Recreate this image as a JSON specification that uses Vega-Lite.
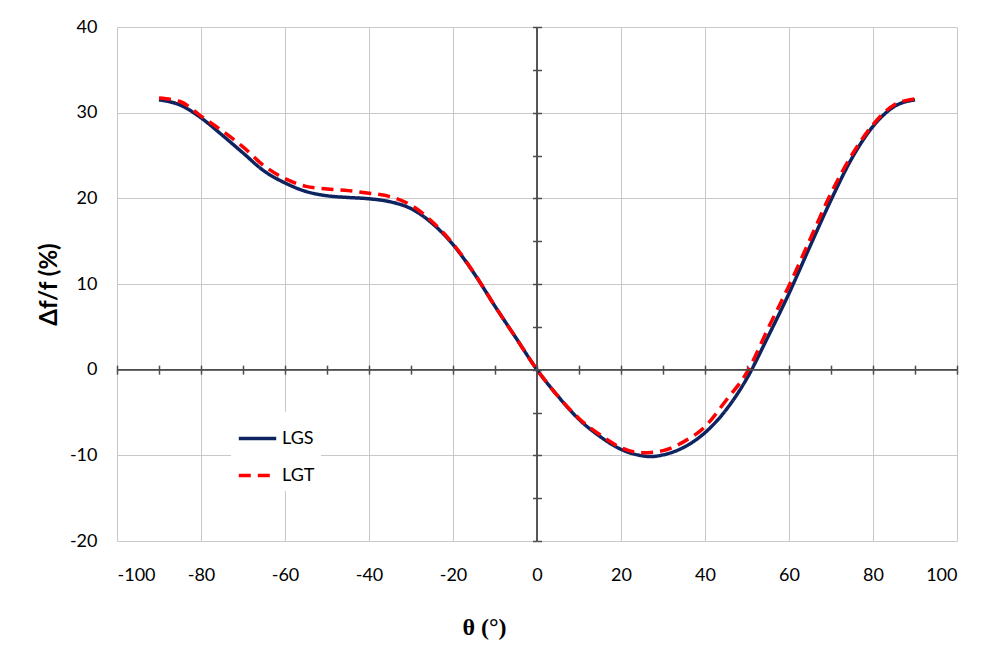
{
  "$schema": "https://vega.github.io/schema/vega-lite/v6.json",
  "width": 840,
  "height": 514,
  "autosize": {"type": "none"},
  "padding": {"left": 117, "top": 27, "right": 25, "bottom": 107},
  "background": "white",
  "config": {"view": {"stroke": null}, "font": "Lato"},
  "layer": [
    {
      "data": {"values": [
        {"series": "LGS", "theta": -90, "df": 31.5},
        {"series": "LGS", "theta": -85, "df": 30.9},
        {"series": "LGS", "theta": -80, "df": 29.4},
        {"series": "LGS", "theta": -75, "df": 27.4},
        {"series": "LGS", "theta": -70, "df": 25.3},
        {"series": "LGS", "theta": -65, "df": 23.2},
        {"series": "LGS", "theta": -60, "df": 21.8},
        {"series": "LGS", "theta": -55, "df": 20.8},
        {"series": "LGS", "theta": -50, "df": 20.3},
        {"series": "LGS", "theta": -45, "df": 20.1},
        {"series": "LGS", "theta": -40, "df": 19.95},
        {"series": "LGS", "theta": -35, "df": 19.6},
        {"series": "LGS", "theta": -30, "df": 18.8},
        {"series": "LGS", "theta": -25, "df": 17.1},
        {"series": "LGS", "theta": -20, "df": 14.6},
        {"series": "LGS", "theta": -15, "df": 11.25},
        {"series": "LGS", "theta": -10, "df": 7.4},
        {"series": "LGS", "theta": -5, "df": 3.7},
        {"series": "LGS", "theta": 0, "df": 0},
        {"series": "LGS", "theta": 5, "df": -3.1},
        {"series": "LGS", "theta": 10, "df": -5.8},
        {"series": "LGS", "theta": 15, "df": -7.8},
        {"series": "LGS", "theta": 20, "df": -9.3},
        {"series": "LGS", "theta": 25, "df": -10.05},
        {"series": "LGS", "theta": 27, "df": -10.15},
        {"series": "LGS", "theta": 30, "df": -9.95},
        {"series": "LGS", "theta": 35, "df": -9.05},
        {"series": "LGS", "theta": 40, "df": -7.35},
        {"series": "LGS", "theta": 45, "df": -4.7},
        {"series": "LGS", "theta": 50, "df": -1.0},
        {"series": "LGS", "theta": 55, "df": 3.85},
        {"series": "LGS", "theta": 60, "df": 8.9},
        {"series": "LGS", "theta": 65, "df": 14.4},
        {"series": "LGS", "theta": 70, "df": 19.8},
        {"series": "LGS", "theta": 75, "df": 24.7},
        {"series": "LGS", "theta": 80, "df": 28.4},
        {"series": "LGS", "theta": 85, "df": 30.7},
        {"series": "LGS", "theta": 90, "df": 31.5},
        {"series": "LGT", "theta": -90, "df": 31.7},
        {"series": "LGT", "theta": -85, "df": 31.3},
        {"series": "LGT", "theta": -80, "df": 29.6},
        {"series": "LGT", "theta": -75, "df": 27.9},
        {"series": "LGT", "theta": -70, "df": 26.0},
        {"series": "LGT", "theta": -65, "df": 23.8},
        {"series": "LGT", "theta": -60, "df": 22.3},
        {"series": "LGT", "theta": -55, "df": 21.4},
        {"series": "LGT", "theta": -50, "df": 21.1},
        {"series": "LGT", "theta": -45, "df": 20.9},
        {"series": "LGT", "theta": -40, "df": 20.6},
        {"series": "LGT", "theta": -35, "df": 20.2},
        {"series": "LGT", "theta": -30, "df": 19.2},
        {"series": "LGT", "theta": -25, "df": 17.3},
        {"series": "LGT", "theta": -20, "df": 14.7},
        {"series": "LGT", "theta": -15, "df": 11.3},
        {"series": "LGT", "theta": -10, "df": 7.4},
        {"series": "LGT", "theta": -5, "df": 3.7},
        {"series": "LGT", "theta": 0, "df": 0},
        {"series": "LGT", "theta": 5, "df": -3.1},
        {"series": "LGT", "theta": 10, "df": -5.7},
        {"series": "LGT", "theta": 15, "df": -7.6},
        {"series": "LGT", "theta": 20, "df": -9.1},
        {"series": "LGT", "theta": 25, "df": -9.7},
        {"series": "LGT", "theta": 30, "df": -9.45},
        {"series": "LGT", "theta": 35, "df": -8.4},
        {"series": "LGT", "theta": 40, "df": -6.65},
        {"series": "LGT", "theta": 45, "df": -3.6},
        {"series": "LGT", "theta": 50, "df": -0.3},
        {"series": "LGT", "theta": 55, "df": 4.8},
        {"series": "LGT", "theta": 60, "df": 9.8},
        {"series": "LGT", "theta": 65, "df": 15.2},
        {"series": "LGT", "theta": 70, "df": 20.6},
        {"series": "LGT", "theta": 75, "df": 25.1},
        {"series": "LGT", "theta": 80, "df": 28.6},
        {"series": "LGT", "theta": 85, "df": 30.9},
        {"series": "LGT", "theta": 90, "df": 31.6}
      ]},
      "mark": {"type": "line", "interpolate": "monotone", "strokeWidth": 3.5},
      "encoding": {
        "x": {
          "field": "theta", "type": "quantitative",
          "scale": {"domain": [-100, 100], "nice": false},
          "axis": {
            "values": [-100, -80, -60, -40, -20, 0, 20, 40, 60, 80, 100],
            "labelExpr": "toString(datum.value)",
            "grid": true, "gridColor": "#c8c8c8", "gridWidth": 1,
            "ticks": false, "domain": false,
            "labelFontSize": 18, "labelColor": "#000000", "labelPadding": 25,
            "title": "θ (°)", "titleFont": "Liberation Serif", "titleFontSize": 24,
            "titleFontWeight": "bold", "titleColor": "#000000", "titlePadding": 31, "titleX": 367
          }
        },
        "y": {
          "field": "df", "type": "quantitative",
          "scale": {"domain": [-20, 40], "nice": false},
          "axis": {
            "values": [-20, -10, 0, 10, 20, 30, 40],
            "labelExpr": "toString(datum.value)",
            "grid": true, "gridColor": "#c8c8c8", "gridWidth": 1,
            "ticks": false, "domain": false,
            "labelFontSize": 18, "labelColor": "#000000", "labelPadding": 20,
            "title": "Δf/f (%)", "titleFontSize": 24, "titleFontWeight": "bold",
            "titleColor": "#000000", "titlePadding": 8
          }
        },
        "color": {
          "field": "series", "type": "nominal",
          "scale": {"domain": ["LGS", "LGT"], "range": ["#0d2461", "#ff0000"]},
          "legend": {
            "title": null, "orient": "none", "legendX": 114, "legendY": 385,
            "fillColor": "white", "padding": 6, "symbolType": "stroke",
            "symbolSize": 1400, "symbolStrokeWidth": 3.5, "labelFontSize": 18,
            "labelColor": "#000000", "rowPadding": 7, "labelOffset": 4
          }
        },
        "strokeDash": {
          "field": "series", "type": "nominal",
          "scale": {"domain": ["LGS", "LGT"], "range": [[1, 0], [12, 7]]},
          "legend": {
            "title": null, "orient": "none", "legendX": 114, "legendY": 385,
            "fillColor": "white", "padding": 6, "symbolType": "stroke",
            "symbolSize": 1400, "symbolStrokeWidth": 3.5, "labelFontSize": 18,
            "labelColor": "#000000", "rowPadding": 7, "labelOffset": 4
          }
        }
      }
    },
    {
      "data": {"values": [{}]},
      "mark": {"type": "rule", "color": "#4d4d4d", "strokeWidth": 1.5},
      "encoding": {
        "x": {"datum": -100, "type": "quantitative", "axis": {
          "orient": "bottom", "offset": {"expr": "scale('y', 0) - height"},
          "values": [-100, -90, -80, -70, -60, -50, -40, -30, -20, -10, 0, 10, 20, 30, 40, 50, 60, 70, 80, 90, 100],
          "domain": false, "grid": false, "labels": false, "title": null,
          "ticks": true, "tickSize": 4.5, "tickColor": "#4d4d4d", "tickWidth": 1.5
        }},
        "x2": {"datum": 100},
        "y": {"datum": 0, "type": "quantitative", "axis": null}
      }
    },
    {
      "data": {"values": [{}]},
      "mark": {"type": "rule", "color": "#4d4d4d", "strokeWidth": 1.5},
      "encoding": {
        "x": {"datum": -100, "type": "quantitative", "axis": {
          "orient": "top", "offset": {"expr": "-scale('y', 0)"},
          "values": [-100, -90, -80, -70, -60, -50, -40, -30, -20, -10, 0, 10, 20, 30, 40, 50, 60, 70, 80, 90, 100],
          "domain": false, "grid": false, "labels": false, "title": null,
          "ticks": true, "tickSize": 4.5, "tickColor": "#4d4d4d", "tickWidth": 1.5
        }},
        "x2": {"datum": 100},
        "y": {"datum": 0, "type": "quantitative", "axis": null}
      }
    },
    {
      "data": {"values": [{}]},
      "mark": {"type": "rule", "color": "#4d4d4d", "strokeWidth": 1.5},
      "encoding": {
        "y": {"datum": -20, "type": "quantitative", "axis": {
          "orient": "left", "offset": {"expr": "-scale('x', 0)"},
          "values": [-20, -15, -10, -5, 0, 5, 10, 15, 20, 25, 30, 35, 40],
          "domain": false, "grid": false, "labels": false, "title": null,
          "ticks": true, "tickSize": 4.5, "tickColor": "#4d4d4d", "tickWidth": 1.5
        }},
        "y2": {"datum": 40},
        "x": {"datum": 0, "type": "quantitative", "axis": null}
      }
    },
    {
      "data": {"values": [{}]},
      "mark": {"type": "rule", "color": "#4d4d4d", "strokeWidth": 1.5},
      "encoding": {
        "y": {"datum": -20, "type": "quantitative", "axis": {
          "orient": "right", "offset": {"expr": "scale('x', 0) - width"},
          "values": [-20, -15, -10, -5, 0, 5, 10, 15, 20, 25, 30, 35, 40],
          "domain": false, "grid": false, "labels": false, "title": null,
          "ticks": true, "tickSize": 4.5, "tickColor": "#4d4d4d", "tickWidth": 1.5
        }},
        "y2": {"datum": 40},
        "x": {"datum": 0, "type": "quantitative", "axis": null}
      }
    }
  ],
  "resolve": {"axis": {"x": "independent", "y": "independent"}}
}
